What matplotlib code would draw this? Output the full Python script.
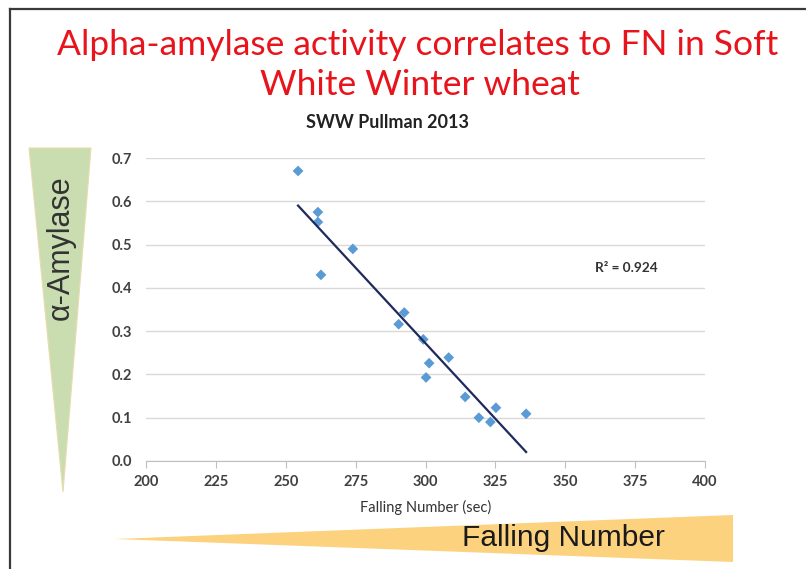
import numpy as np
import matplotlib.pyplot as plt
from matplotlib.patches import Polygon
from matplotlib.lines import Line2D

# ------------ data ---------------

falling_number = [254.4, 261.5, 261.5, 262.6, 274.0, 292.4, 290.4, 299.2,
                  301.3, 300.2, 308.3, 314.2, 319.1, 323.2, 325.2, 336.0]
amylase = [0.670, 0.575, 0.552, 0.430, 0.490, 0.343, 0.316, 0.281,
           0.226, 0.193, 0.239, 0.148, 0.100, 0.090, 0.123, 0.109]

x_ticks = [200, 225, 250, 275, 300, 325, 350, 375, 400]
y_ticks = [0.0, 0.1, 0.2, 0.3, 0.4, 0.5, 0.6, 0.7]
r2_label = 'R² = 0.924'

W, H = 806, 569


def fx(px):
    return px / W


def fy(py):
    return 1 - py / H


# ------------ figure ---------------

fig = plt.figure(figsize=(W / 100, H / 100), dpi=100)
fig.patch.set_facecolor('white')

# slide frame (left + top)
fig.add_artist(Line2D([fx(10), fx(10)], [fy(9), 0], transform=fig.transFigure,
                      color='#3a3a3a', lw=1.6))
fig.add_artist(Line2D([fx(10), 1], [fy(9), fy(9)], transform=fig.transFigure,
                      color='#3a3a3a', lw=1.6))

# title
fig.text(fx(418), fy(45), 'Alpha-amylase activity correlates to FN in Soft',
         ha='center', va='center', color='#e8141c', fontsize=25.5, family='Lato')
fig.text(fx(420), fy(85), 'White Winter wheat',
         ha='center', va='center', color='#e8141c', fontsize=25.5, family='Lato')

# decorative wedges
green = Polygon([(fx(29), fy(148)), (fx(91), fy(148)), (fx(63), fy(492))],
                closed=True, transform=fig.transFigure, facecolor='#c9ddb0',
                edgecolor='#e8dcae', lw=0.8)
fig.add_artist(green)
fig.text(fx(61), fy(248), 'α-Amylase', rotation=90, ha='center', va='center',
         fontsize=22, color='#333333', family='Liberation Sans')

orange = Polygon([(fx(115), fy(539)), (fx(733), fy(515)), (fx(733), fy(562))],
                 closed=True, transform=fig.transFigure, facecolor='#fcd27e',
                 edgecolor='none')
fig.add_artist(orange)
fig.text(fx(563), fy(538), 'Falling Number', ha='center', va='center',
         fontsize=21.5, color='#1a1a1a', family='Liberation Sans')

# chart
ax = fig.add_axes([fx(146), fy(461), fx(705) - fx(146), fy(158) - fy(461)])
ax.set_facecolor('none')

ax.scatter(falling_number, amylase, marker='D', s=30, color='#5b9bd5',
           edgecolor='none', zorder=3)

# linear trendline over the data range
slope, intercept = np.polyfit(falling_number, amylase, 1)
xs = np.array([min(falling_number), max(falling_number)])
ax.plot(xs, slope * xs + intercept, color='#1f2a5c', lw=1.6, zorder=4)

ax.text(372, 0.446, r2_label, ha='center', va='center', fontsize=9.8,
        fontweight='bold', color='#333333', family='Lato')

ax.set_xlim(200, 400)
ax.set_ylim(0, 0.7)
ax.set_xticks(x_ticks)
ax.set_yticks(y_ticks)
ax.set_xticklabels([str(t) for t in x_ticks])
ax.set_yticklabels([f'{t:.1f}' for t in y_ticks])
for lab in ax.get_xticklabels() + ax.get_yticklabels():
    lab.set_family('Lato')
    lab.set_fontweight('bold')
    lab.set_fontsize(10.5)
    lab.set_color('#404040')

ax.grid(axis='y', color='#d9d9d9', lw=1)
ax.set_axisbelow(True)
for side in ['top', 'right', 'left']:
    ax.spines[side].set_visible(False)
ax.spines['bottom'].set_color('#bfbfbf')
ax.tick_params(axis='x', length=5, color='#bfbfbf', pad=5)
ax.tick_params(axis='y', length=0, pad=10)

ax.set_xlabel('Falling Number (sec)', fontsize=10.5, color='#333333',
              family='Lato', labelpad=8)

fig.text(fx(388), fy(122), 'SWW Pullman 2013', ha='center', va='center',
         fontsize=13, fontweight='bold', color='#222222', family='Lato')

fig.savefig('out.png', dpi=100)
